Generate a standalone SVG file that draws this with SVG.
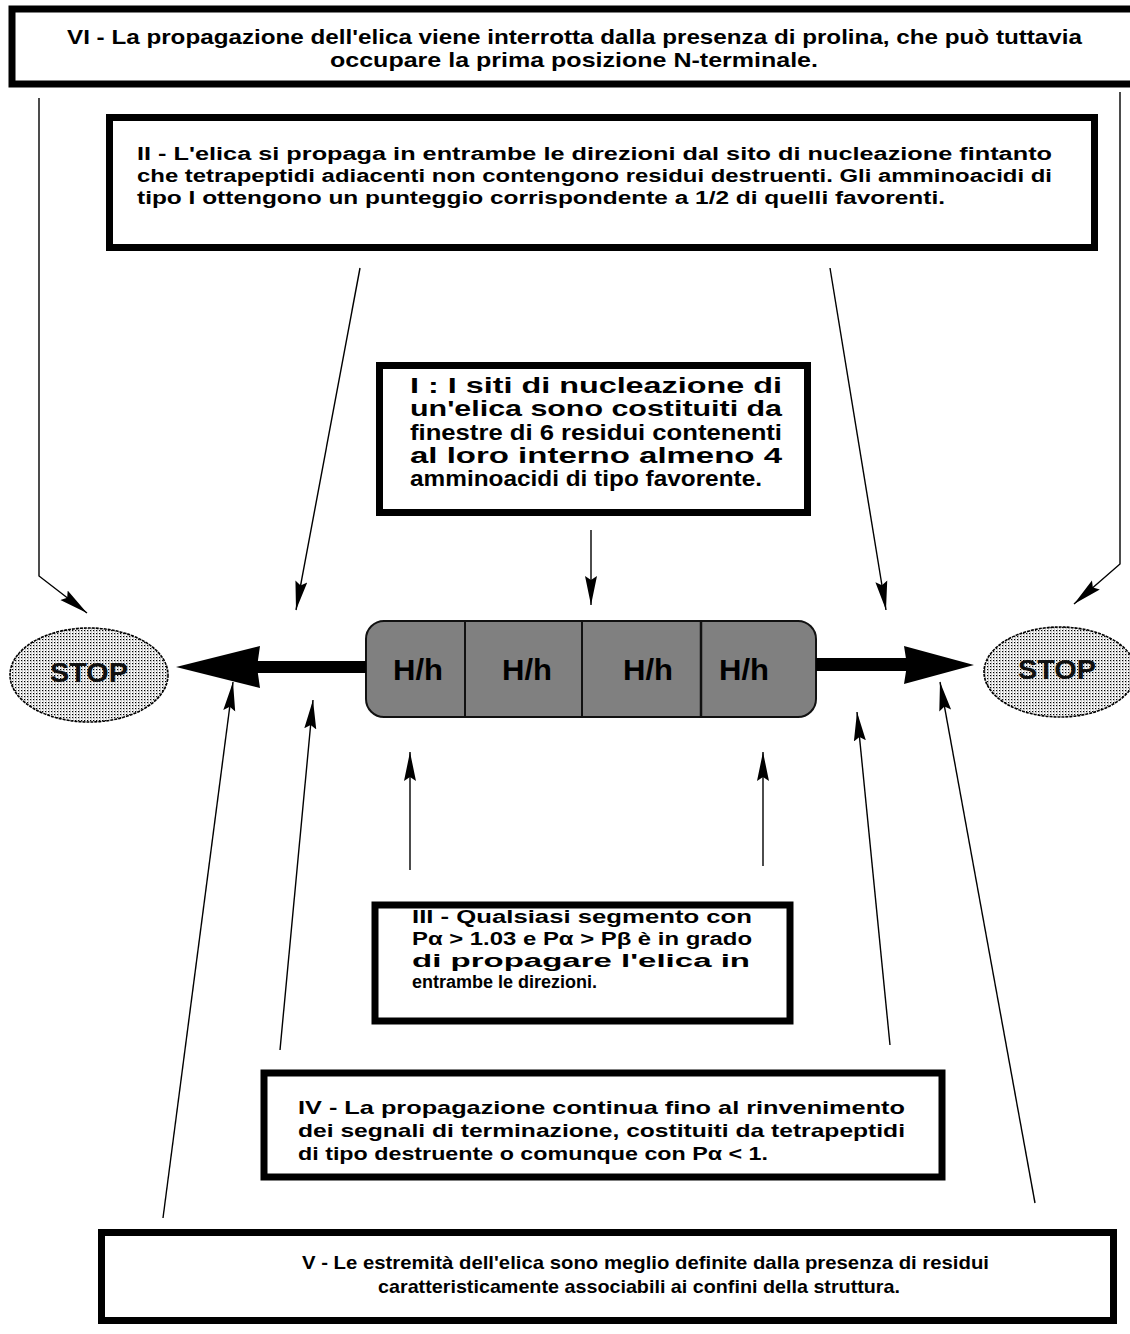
<svg xmlns="http://www.w3.org/2000/svg" width="1130" height="1334" viewBox="0 0 1130 1334">
  <defs>
    <style>
      .box { fill: #ffffff; stroke: #000000; stroke-width: 7; }
      .t { font-family: "Liberation Sans", Arial, sans-serif; font-weight: bold; fill: #000000; }
      .t18 { font-size: 18px; }
      .t19 { font-size: 19px; }
      .t21 { font-size: 21px; }
      .t22 { font-size: 22px; }
      .cell { font-family: "Liberation Sans", Arial, sans-serif; font-weight: bold; font-size: 30px; fill: #000000; }
      .stop { font-family: "Liberation Sans", Arial, sans-serif; font-weight: bold; font-size: 28px; fill: #111111; }
      .conn { fill: none; stroke: #000000; stroke-width: 1.4; marker-end: url(#head); }
      .big { fill: #000000; stroke: none; }
    </style>
    <!-- slim filled arrowhead for the thin connectors -->
    <marker id="head" markerUnits="userSpaceOnUse" markerWidth="30" markerHeight="14" viewBox="0 0 30 14" refX="29" refY="7" orient="auto">
      <path d="M0,1 L29,7 L0,13 L4,7 Z" fill="#000000"/>
    </marker>
    <!-- dotted screen used inside the STOP ovals -->
    <pattern id="dots" width="3" height="3" patternUnits="userSpaceOnUse">
      <rect width="3" height="3" fill="#ffffff"/>
      <rect x="0" y="0" width="1.2" height="1.2" fill="#000000"/>
      <rect x="1.5" y="0" width="0.6" height="3" fill="#9a9a9a"/>
    </pattern>
  </defs>

  <!-- VI: top rule -->
  <g id="node-vi">
    <rect class="box" x="12" y="9" width="1125" height="75" stroke-width="6"/>
    <text class="t t21" x="67" y="44" textLength="1015" lengthAdjust="spacingAndGlyphs">VI - La propagazione dell'elica viene interrotta dalla presenza di prolina, che può tuttavia</text>
    <text class="t t21" x="330" y="67" textLength="488" lengthAdjust="spacingAndGlyphs">occupare la prima posizione N-terminale.</text>
  </g>

  <!-- II: propagation in both directions -->
  <g id="node-ii">
    <rect class="box" x="109.5" y="117.5" width="985" height="130"/>
    <text class="t t18" x="137" y="160" textLength="915" lengthAdjust="spacingAndGlyphs">II - L'elica si  propaga in entrambe le direzioni dal sito di nucleazione fintanto</text>
    <text class="t t18" x="137" y="182" textLength="915" lengthAdjust="spacingAndGlyphs">che tetrapeptidi adiacenti non contengono residui destruenti. Gli amminoacidi di</text>
    <text class="t t18" x="137" y="204" textLength="808" lengthAdjust="spacingAndGlyphs">tipo I ottengono un punteggio corrispondente a 1/2 di quelli favorenti.</text>
  </g>

  <!-- I: nucleation sites -->
  <g id="node-i">
    <rect class="box" x="379.5" y="365.5" width="428" height="147" stroke-width="6"/>
    <text class="t t22" x="410" y="393" textLength="372" lengthAdjust="spacingAndGlyphs">I : I siti di nucleazione di</text>
    <text class="t t22" x="410" y="416" textLength="372" lengthAdjust="spacingAndGlyphs">un'elica sono costituiti da</text>
    <text class="t t22" x="410" y="440" textLength="372" lengthAdjust="spacingAndGlyphs">finestre di 6 residui contenenti</text>
    <text class="t t22" x="410" y="463" textLength="372" lengthAdjust="spacingAndGlyphs">al loro interno almeno 4</text>
    <text class="t t22" x="410" y="486" textLength="352" lengthAdjust="spacingAndGlyphs">amminoacidi di tipo favorente.</text>
  </g>

  <!-- helix segment made of four H/h cells -->
  <g id="node-helix">
    <rect x="366" y="621" width="450" height="96" rx="18" ry="18" fill="#808080" stroke="#111111" stroke-width="2"/>
    <line x1="465" y1="621" x2="465" y2="717" stroke="#111111" stroke-width="2"/>
    <line x1="582" y1="621" x2="582" y2="717" stroke="#111111" stroke-width="2"/>
    <line x1="701" y1="621" x2="701" y2="717" stroke="#111111" stroke-width="2.5"/>
    <text class="cell" x="418" y="680" text-anchor="middle" textLength="50" lengthAdjust="spacingAndGlyphs">H/h</text>
    <text class="cell" x="527" y="680" text-anchor="middle" textLength="50" lengthAdjust="spacingAndGlyphs">H/h</text>
    <text class="cell" x="648" y="680" text-anchor="middle" textLength="50" lengthAdjust="spacingAndGlyphs">H/h</text>
    <text class="cell" x="744" y="680" text-anchor="middle" textLength="50" lengthAdjust="spacingAndGlyphs">H/h</text>
  </g>

  <!-- STOP ovals -->
  <g id="node-stop-left">
    <ellipse cx="89" cy="675" rx="79" ry="47" fill="url(#dots)" stroke="#000000" stroke-width="1.6" stroke-dasharray="3 1"/>
    <text class="stop" x="89" y="682" text-anchor="middle" textLength="78" lengthAdjust="spacingAndGlyphs">STOP</text>
  </g>
  <g id="node-stop-right">
    <ellipse cx="1060" cy="672" rx="76" ry="45" fill="url(#dots)" stroke="#000000" stroke-width="1.6" stroke-dasharray="3 1"/>
    <text class="stop" x="1057" y="679" text-anchor="middle" textLength="78" lengthAdjust="spacingAndGlyphs">STOP</text>
  </g>

  <!-- III: propagating segments -->
  <g id="node-iii">
    <rect class="box" x="375" y="905" width="415" height="116" stroke-width="6"/>
    <text class="t t18" x="412" y="923" textLength="340" lengthAdjust="spacingAndGlyphs">III - Qualsiasi segmento con</text>
    <text class="t t18" x="412" y="945" textLength="340" lengthAdjust="spacingAndGlyphs">Pα &gt; 1.03 e Pα &gt; Pβ è in grado</text>
    <text class="t t18" x="412" y="967" textLength="338" lengthAdjust="spacingAndGlyphs">di propagare l'elica in</text>
    <text class="t t18" x="412" y="988" textLength="185" lengthAdjust="spacingAndGlyphs">entrambe le direzioni.</text>
  </g>

  <!-- IV: termination signals -->
  <g id="node-iv">
    <rect class="box" x="264" y="1073" width="678" height="104" stroke-width="8"/>
    <text class="t t19" x="298" y="1114" textLength="607" lengthAdjust="spacingAndGlyphs">IV - La propagazione continua fino al rinvenimento</text>
    <text class="t t19" x="298" y="1137" textLength="607" lengthAdjust="spacingAndGlyphs">dei segnali di terminazione, costituiti da tetrapeptidi</text>
    <text class="t t19" x="298" y="1160" textLength="470" lengthAdjust="spacingAndGlyphs">di tipo destruente o comunque con Pα &lt; 1.</text>
  </g>

  <!-- V: helix ends -->
  <g id="node-v">
    <rect class="box" x="101.5" y="1232.5" width="1012" height="88"/>
    <text class="t t19" x="302" y="1269" textLength="687" lengthAdjust="spacingAndGlyphs">V - Le estremità dell'elica sono meglio definite dalla presenza di residui</text>
    <text class="t t19" x="378" y="1293" textLength="522" lengthAdjust="spacingAndGlyphs">caratteristicamente associabili ai confini della struttura.</text>
  </g>

  <!-- connectors -->
  <g id="connectors">
    <!-- heavy propagation arrows out of the helix -->
    <rect class="big" x="255" y="661" width="111" height="12"/>
    <polygon class="big" points="176,667 260,646 257,667 260,688"/>
    <rect class="big" x="816" y="658" width="92" height="13"/>
    <polygon class="big" points="904,646 974,665 904,684 907,665"/>

    <!-- from VI -->
    <polyline class="conn" points="39,98 39,576 87,613"/>
    <polyline class="conn" points="1120,92 1120,564 1074,604"/>
    <!-- from II -->
    <line class="conn" x1="360" y1="268" x2="296" y2="610"/>
    <line class="conn" x1="830" y1="268" x2="886" y2="610"/>
    <!-- from I -->
    <line class="conn" x1="591" y1="530" x2="591" y2="605"/>
    <!-- from III -->
    <line class="conn" x1="410" y1="870" x2="410" y2="752"/>
    <line class="conn" x1="763" y1="866" x2="763" y2="752"/>
    <!-- from IV -->
    <line class="conn" x1="280" y1="1050" x2="313" y2="700"/>
    <line class="conn" x1="890" y1="1045" x2="857" y2="712"/>
    <!-- from V -->
    <line class="conn" x1="163" y1="1218" x2="233" y2="682"/>
    <line class="conn" x1="1035" y1="1203" x2="940" y2="682"/>
  </g>
</svg>
